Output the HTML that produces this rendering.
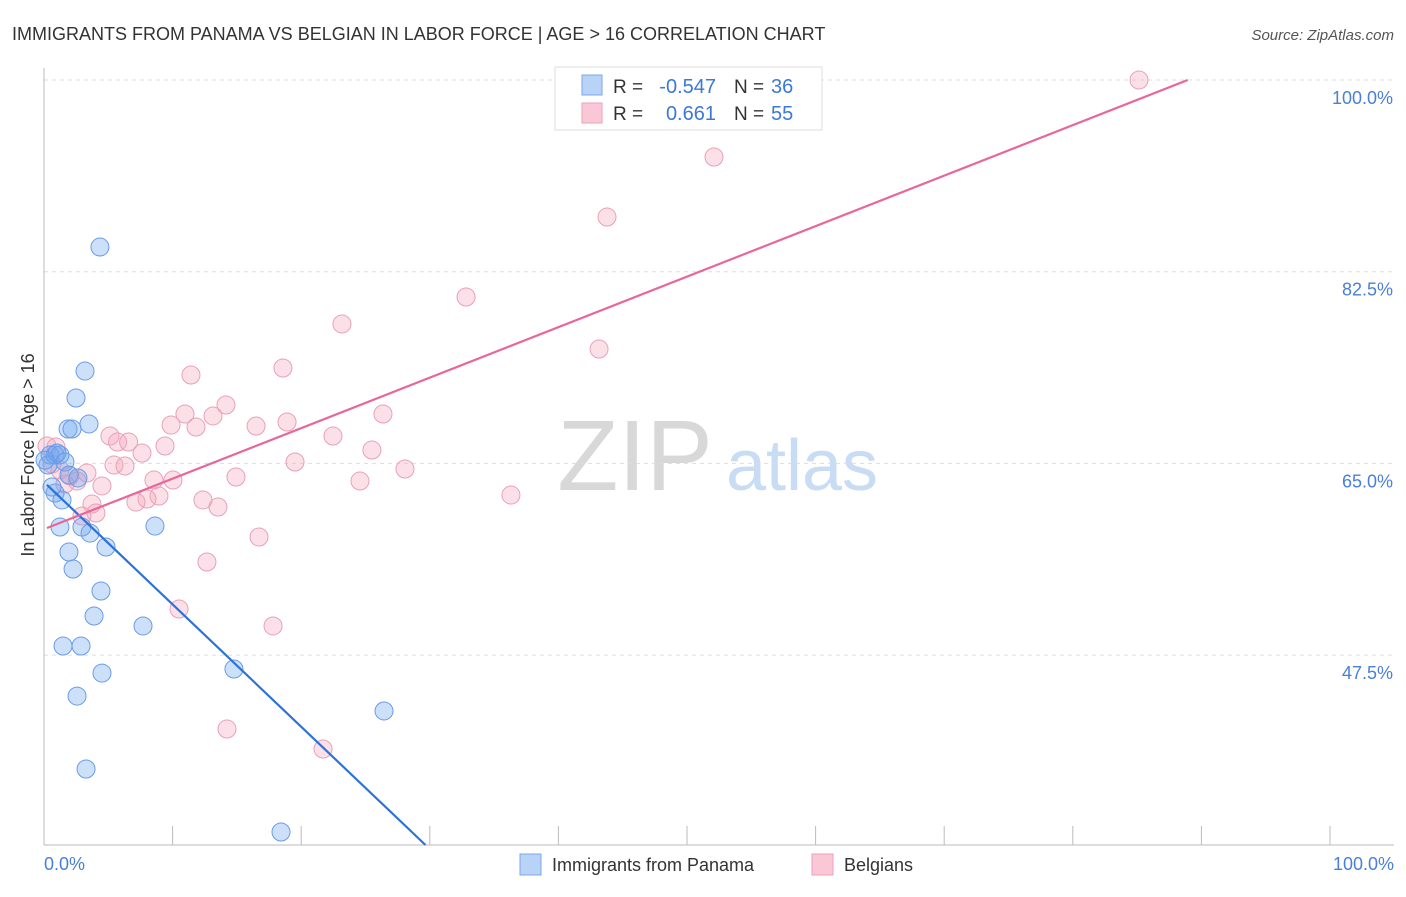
<!DOCTYPE html>
<html><head><meta charset="utf-8"><style>
body{margin:0;background:#fff;font-family:"Liberation Sans",sans-serif;}
svg text{font-family:"Liberation Sans",sans-serif;}
</style></head><body>
<svg id="c" width="1406" height="892" xmlns="http://www.w3.org/2000/svg">
<text x="12" y="40" font-size="18" fill="#333">IMMIGRANTS FROM PANAMA VS BELGIAN IN LABOR FORCE | AGE &gt; 16 CORRELATION CHART</text>
<text x="1394" y="40" font-size="15" fill="#555" text-anchor="end" font-style="italic">Source: ZipAtlas.com</text>
<text x="635" y="490" font-size="100" fill="#d8d8d8" font-family="Liberation Serif,serif" text-anchor="middle">ZIP</text>
<text x="802" y="490" font-size="72" fill="#c8dcf4" text-anchor="middle">atlas</text>
<g id="grid"></g><g id="axes"></g><g id="pts"></g><g id="lines"></g>
<text transform="translate(34,455) rotate(-90)" font-size="18" fill="#333" text-anchor="middle">In Labor Force | Age &gt; 16</text>
<text x="44" y="870" font-size="18" fill="#4a7fd8">0.0%</text>
<text x="1394" y="870" font-size="18" fill="#4a7fd8" text-anchor="end">100.0%</text>
<g>
<rect x="555" y="67" width="267" height="63" fill="#fff" stroke="#ddd"/>
<rect x="582" y="75" width="20" height="20" fill="#b8d3f7" stroke="#7aa7e6"/>
<rect x="582" y="103" width="20" height="20" fill="#f9c7d6" stroke="#eba0b8"/>
<text x="613" y="93" font-size="19" fill="#333">R =</text>
<text x="716" y="93" font-size="20" fill="#3b78d8" text-anchor="end">-0.547</text>
<text x="734" y="93" font-size="19" fill="#333">N =</text>
<text x="771" y="93" font-size="20" fill="#3b78d8">36</text>
<text x="613" y="120" font-size="19" fill="#333">R =</text>
<text x="716" y="120" font-size="20" fill="#3b78d8" text-anchor="end">0.661</text>
<text x="734" y="120" font-size="19" fill="#333">N =</text>
<text x="771" y="120" font-size="20" fill="#3b78d8">55</text>
</g>
<g>
<rect x="520" y="854" width="21" height="21" fill="#b8d3f7" stroke="#7aa7e6"/>
<text x="552" y="871" font-size="18" fill="#333">Immigrants from Panama</text>
<rect x="812" y="854" width="21" height="21" fill="#f9c7d6" stroke="#eba0b8"/>
<text x="844" y="871" font-size="18" fill="#333">Belgians</text>
</g>
</svg>
<script>
const yTicks=[100,82.5,65,47.5];
const xTickVals=[0,10,20,30,40,50,60,70,80,90,100];
const panamaX=[4.35,3.19,2.49,3.50,1.87,2.18,0.47,0.86,1.24,1.01,1.63,1.94,2.64,0.86,1.40,1.24,2.95,3.58,8.63,4.82,1.94,2.26,4.43,3.89,7.70,1.48,2.88,14.77,4.51,2.57,26.44,3.27,18.43,0.31,0.62,0.08];
const panamaY=[84.75,73.43,70.97,68.60,68.14,68.14,65.77,65.77,65.77,65.95,65.13,63.94,63.67,62.30,61.66,59.19,59.19,58.64,59.28,57.37,56.91,55.36,53.35,51.07,50.16,48.33,48.33,46.23,45.86,43.76,42.40,37.10,31.35,64.85,62.85,65.3];
const belgX=[85.15,52.10,43.78,32.82,23.17,43.16,11.43,18.58,14.15,10.96,13.14,26.36,18.90,9.88,11.82,16.49,5.13,22.47,5.72,6.58,9.41,25.50,7.62,19.52,5.44,6.30,28.07,3.34,14.93,8.55,10.03,24.57,2.57,1.63,4.51,36.31,8.94,8.01,7.15,12.36,3.73,13.53,4.04,2.95,16.72,12.67,10.50,17.81,14.23,21.70,0.23,0.62,1.24,2.02,0.93];
const belgY=[100,92.97,87.49,80.19,77.73,75.44,73.07,73.71,70.33,69.51,69.33,69.51,68.78,68.50,68.32,68.41,67.50,67.50,66.95,66.95,66.59,66.22,65.95,65.13,64.85,64.76,64.49,64.12,63.76,63.48,63.48,63.39,63.39,63.12,62.94,62.11,62.02,61.75,61.47,61.66,61.29,61.02,60.47,60.20,58.28,56.00,51.71,50.16,40.75,38.93,66.59,64.94,64.40,63.85,66.5];
const panamaTrend=[63.3,-1.117];
const belgTrend=[59.0,0.461];
const NS='http://www.w3.org/2000/svg';
const X0=44,X1=1330,YB=845;
const sx=v=>X0+(X1-X0)*v/100;
const sy=v=>80+(100-v)/17.5*191.7;
const yMin=100-(YB-80)/191.7*17.5;
function mk(t,a,p){const e=document.createElementNS(NS,t);for(const k in a)e.setAttribute(k,a[k]);p.appendChild(e);return e;}
const grid=document.getElementById('grid'),axes=document.getElementById('axes');
yTicks.forEach(v=>{
 const l=mk('line',{x1:X0,x2:1394,y1:sy(v),y2:sy(v),stroke:'#ddd','stroke-dasharray':'4,4'},grid);
 
 
 const t=mk('text',{x:1393,y:sy(v)+24,'font-size':18,fill:'#4a7fd8','text-anchor':'end'},grid);
 t.textContent=v.toFixed(1)+'%';
 
 
});
const ya=mk('line',{x1:X0,x2:X0,y1:68,y2:YB,stroke:'#bbb'},axes);


const xa=mk('line',{x1:X0,x2:1394,y1:YB,y2:YB,stroke:'#bbb'},axes);


xTickVals.forEach(v=>{
 const t=mk('line',{x1:sx(v),x2:sx(v),y1:YB,y2:YB-19,stroke:'#bbb'},axes);
 
 
});
const pts=document.getElementById('pts');
function dots(xs,ys,fill,stroke,name){xs.forEach((x,i)=>{
 const c=mk('circle',{cx:sx(x),cy:sy(ys[i]),r:9,fill:fill,stroke:stroke,'stroke-width':1},pts);
 
 
});}
dots(belgX,belgY,'rgba(245,165,190,0.35)','#e9a0b8','belgian-point');
dots(panamaX,panamaY,'rgba(110,165,240,0.35)','#6a9be6','panama-point');
const lines=document.getElementById('lines');
function trend(p,col,name){
 let xa=0.23,xb=100;
 const ya=p[0]+p[1]*xa;
 let yb=p[0]+p[1]*xb;
 if(yb<yMin){xb=(yMin-p[0])/p[1];yb=yMin;}
 if(yb>100){xb=(100-p[0])/p[1];yb=100;}
 const l=mk('line',{x1:sx(xa),y1:sy(ya),x2:sx(xb),y2:sy(yb),stroke:col,'stroke-width':2.2},lines);
 
 
}
trend(panamaTrend,'#2d72d9','panama-trend-line');
trend(belgTrend,'#e8679a','belgian-trend-line');
</script>
</body></html>
